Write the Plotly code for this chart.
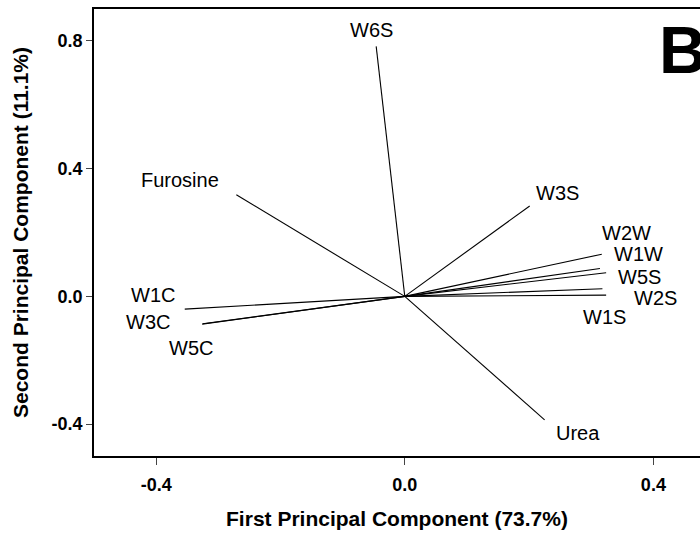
import plotly.graph_objects as go

# Loadings (PC1, PC2)
variables = ["W6S", "Furosine", "W3S", "W2W", "W1W", "W5S", "W2S", "W1S", "Urea", "W1C", "W3C", "W5C"]
pc1 = [-0.046, -0.271, 0.201, 0.317, 0.314, 0.324, 0.318, 0.324, 0.225, -0.354, -0.326, -0.325]
pc2 = [0.783, 0.318, 0.283, 0.132, 0.087, 0.074, 0.024, 0.004, -0.387, -0.040, -0.087, -0.086]

# Label positions (data coordinates)
label_x = [-0.053, -0.362, 0.2456, 0.357, 0.376, 0.377, 0.404, 0.321, 0.279, -0.405, -0.413, -0.344]
label_y = [0.835, 0.365, 0.325, 0.199, 0.133, 0.0615, -0.006, -0.066, -0.429, 0.004, -0.080, -0.163]

x_ticks = [-0.4, 0.0, 0.4]
y_ticks = [-0.4, 0.0, 0.4, 0.8]

FONT = "Arial, 'Liberation Sans', sans-serif"

fig = go.Figure()
for name, x, y in zip(variables, pc1, pc2):
    fig.add_trace(go.Scatter(x=[0, x], y=[0, y], mode="lines",
                             line=dict(color="black", width=1.1),
                             name=name, showlegend=False, hoverinfo="skip"))

for name, lx, ly in zip(variables, label_x, label_y):
    fig.add_annotation(x=lx, y=ly, text=name, showarrow=False,
                       xanchor="center", yanchor="middle",
                       font=dict(family=FONT, size=20, color="black"))

fig.add_annotation(x=0.4056, y=0.773, text="<b>B</b>", showarrow=False,
                   xanchor="left", yanchor="middle",
                   font=dict(family=FONT, size=66, color="black"))

fig.update_layout(
    width=700, height=533,
    margin=dict(l=94, r=0, t=9, b=77),
    plot_bgcolor="white", paper_bgcolor="white",
    font=dict(family=FONT, color="black"),
)
fig.update_xaxes(
    range=[-0.5, 0.475], tickvals=x_ticks, ticktext=[f"<b>{v:.1f}</b>" for v in x_ticks],
    showgrid=False, zeroline=False, showline=True, mirror=True,
    linecolor="black", linewidth=1.5, ticks="outside", ticklen=7, tickwidth=1.2,
    ticklabelstandoff=5,
    tickfont=dict(family=FONT, size=18, color="black"),
    title=dict(text="<b>First Principal Component (73.7%)</b>",
               font=dict(family=FONT, size=21, color="black"), standoff=17),
)
fig.update_yaxes(
    range=[-0.5, 0.9], tickvals=y_ticks, ticktext=[f"<b>{v:.1f}</b>" for v in y_ticks],
    showgrid=False, zeroline=False, showline=True, mirror=False,
    linecolor="black", linewidth=1.5, ticks="outside", ticklen=6, tickwidth=1.2,
    tickfont=dict(family=FONT, size=18, color="black"),
    title=dict(text="<b>Second Principal Component (11.1%)</b>",
               font=dict(family=FONT, size=21, color="black"), standoff=17),
)

fig.write_html("out.html")
